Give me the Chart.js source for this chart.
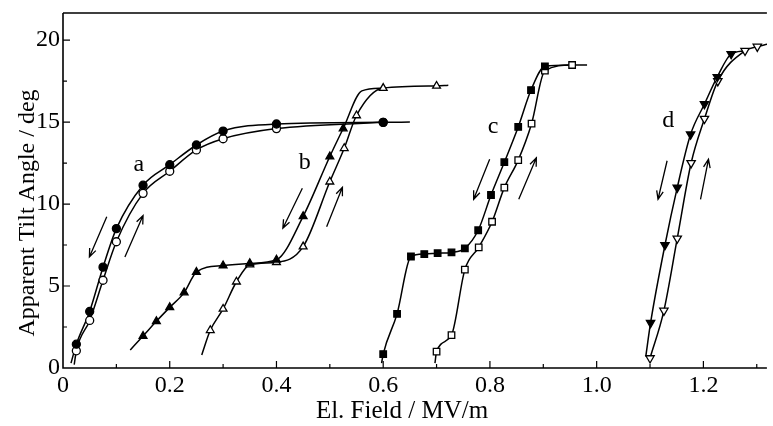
<!DOCTYPE html>
<html>
<head>
<meta charset="utf-8">
<script src="https://cdn.jsdelivr.net/npm/chart.js@4.4.0/dist/chart.umd.min.js"></script>
<style>
  html, body { margin: 0; padding: 0; background: #fff; }
  #wrap { width: 773px; height: 426px; }
</style>
</head>
<body>
<div id="wrap"><canvas id="chart"></canvas></div>
<script>
// curve a, circles (filled = field decreasing, open = increasing)
const aDownX = [0.025, 0.05, 0.075, 0.1, 0.15, 0.2, 0.25, 0.3, 0.4, 0.6];
const aDownY = [1.45, 3.45, 6.15, 8.5, 11.15, 12.4, 13.6, 14.45, 14.88, 14.98];
const aDownStart = [[0.015, 0.3]];
const aDownEnd = [[0.65, 15.0]];
const aUpX = [0.025, 0.05, 0.075, 0.1, 0.15, 0.2, 0.25, 0.3, 0.4, 0.6];
const aUpY = [1.05, 2.9, 5.35, 7.7, 10.65, 12.0, 13.3, 13.98, 14.6, 14.98];
const aUpStart = [[0.021, 0.2]];
const aUpEnd = [];

// curve b, triangles
const bDownX = [0.15, 0.175, 0.2, 0.227, 0.25, 0.3, 0.35, 0.4, 0.45, 0.5, 0.525];
const bDownY = [1.95, 2.85, 3.7, 4.6, 5.85, 6.25, 6.38, 6.6, 9.25, 12.9, 14.6];
const bDownStart = [[0.126, 1.1]];
const bDownEnd = [[0.56, 16.9], [0.6, 17.07]];
const bUpX = [0.276, 0.3, 0.325, 0.35, 0.4, 0.45, 0.5, 0.527, 0.55, 0.6, 0.7];
const bUpY = [2.3, 3.6, 5.26, 6.3, 6.45, 7.4, 11.36, 13.4, 15.4, 17.07, 17.2];
const bUpStart = [[0.26, 0.8]];
const bUpEnd = [[0.722, 17.25]];

// curve c, squares
const cDownX = [0.6, 0.626, 0.652, 0.677, 0.702, 0.728, 0.753, 0.778, 0.802, 0.827, 0.853, 0.877, 0.903];
const cDownY = [0.85, 3.3, 6.8, 6.95, 7.0, 7.05, 7.3, 8.4, 10.55, 12.55, 14.7, 16.95, 18.4];
const cDownStart = [[0.597, 0.3]];
const cDownEnd = [[0.954, 18.48]];
const cUpX = [0.7, 0.728, 0.753, 0.779, 0.804, 0.827, 0.853, 0.878, 0.903, 0.954];
const cUpY = [1.0, 2.0, 6.0, 7.36, 8.92, 11.0, 12.68, 14.9, 18.13, 18.48];
const cUpStart = [[0.697, 0.3]];
const cUpEnd = [[0.982, 18.48]];

// curve d, inverted triangles
const dDownX = [1.101, 1.128, 1.151, 1.176, 1.202, 1.226, 1.252];
const dDownY = [2.75, 7.5, 11.0, 14.25, 16.1, 17.75, 19.15];
const dDownStart = [[1.092, 0.7]];
const dDownEnd = [[1.278, 19.35]];
const dUpX = [1.1, 1.126, 1.151, 1.177, 1.202, 1.227, 1.278, 1.301];
const dUpY = [0.6, 3.5, 7.9, 12.5, 15.2, 17.5, 19.35, 19.6];
const dUpStart = [];
const dUpEnd = [[1.32, 19.75]];

// curve letters
const labelText = ['a', 'b', 'c', 'd'];
const labelX = [0.142, 0.453, 0.806, 1.134];
const labelY = [12.4, 12.5, 14.7, 15.1];

// sweep arrows (from -> to, head at "to")
const arrowFromX = [0.082, 0.116, 0.4485, 0.494, 0.7995, 0.854, 1.132, 1.1946];
const arrowFromY = [9.22, 6.77, 10.96, 8.62, 12.73, 10.29, 12.64, 10.29];
const arrowToX = [0.0495, 0.15, 0.412, 0.5236, 0.7695, 0.887, 1.115, 1.2095];
const arrowToY = [6.77, 9.3, 8.52, 11.02, 10.29, 12.82, 10.29, 12.73];

const xTicks = [0, 0.2, 0.4, 0.6, 0.8, 1.0, 1.2];
const yTicks = [0, 5, 10, 15, 20];
const xTitle = 'El. Field / MV/m';
const yTitle = 'Apparent Tilt Angle / deg';

const FONT = "'Liberation Serif', 'DejaVu Serif', serif";

function pts(xs, ys) {
        return xs.map((x, i) => ({x: x, y: ys[i]}));
}

function curve(xs, ys, start, end) {
        const toObj = p => ({x: p[0], y: p[1]});
        return {
                data: start.map(toObj).concat(pts(xs, ys), end.map(toObj)),
                borderColor: '#000',
                borderWidth: 1.5,
                pointRadius: 0,
                cubicInterpolationMode: 'monotone',
                fill: false,
                order: 10
        };
}

function markers(xs, ys, style, filled, radius, rotation=0) {
        return {
                data: pts(xs, ys),
                showLine: false,
                pointStyle: style,
                pointRadius: radius,
                pointRotation: rotation,
                pointBackgroundColor: filled ? '#000' : '#fff',
                pointBorderColor: '#000',
                pointBorderWidth: 1.3,
                order: filled ? 1 : 5
        };
}

const datasets = [
        curve(aDownX, aDownY, aDownStart, aDownEnd),
        curve(aUpX, aUpY, aUpStart, aUpEnd),
        curve(bDownX, bDownY, bDownStart, bDownEnd),
        curve(bUpX, bUpY, bUpStart, bUpEnd),
        curve(cDownX, cDownY, cDownStart, cDownEnd),
        curve(cUpX, cUpY, cUpStart, cUpEnd),
        curve(dDownX, dDownY, dDownStart, dDownEnd),
        curve(dUpX, dUpY, dUpStart, dUpEnd),
        markers(aDownX, aDownY, 'circle', true, 4),
        markers(aUpX, aUpY, 'circle', false, 4),
        markers(bDownX, bDownY, 'triangle', true, 4.5),
        markers(bUpX, bUpY, 'triangle', false, 4.5),
        markers(cDownX, cDownY, 'rect', true, 4.6),
        markers(cUpX, cUpY, 'rect', false, 4.6),
        markers(dDownX, dDownY, 'triangle', true, 4.8, 180),
        markers(dUpX, dUpY, 'triangle', false, 4.8, 180)
];

// frame, inward ticks, axis titles, letters and arrows
const decor = {
        id: 'decor',
        afterDatasetsDraw(chart) {
                const {ctx, chartArea: ca, scales: {x, y}} = chart;
                ctx.save();
                ctx.strokeStyle = '#000';
                ctx.lineWidth = 1.6;
                ctx.beginPath();
                ctx.moveTo(ca.left, ca.top);
                ctx.lineTo(ca.left, ca.bottom);
                ctx.lineTo(ca.right, ca.bottom);
                ctx.moveTo(ca.left, ca.top);
                ctx.lineTo(ca.right, ca.top);
                ctx.stroke();

                ctx.lineWidth = 1.2;
                ctx.beginPath();
                for (let i = 1; i <= 13; i++) {
                        const px = x.getPixelForValue(i / 10);
                        const len = i % 2 === 0 ? 7 : 4;
                        ctx.moveTo(px, ca.bottom);
                        ctx.lineTo(px, ca.bottom - len);
                }
                for (let i = 1; i <= 8; i++) {
                        const py = y.getPixelForValue(i * 2.5);
                        const len = i % 2 === 0 ? 7 : 4;
                        ctx.moveTo(ca.left, py);
                        ctx.lineTo(ca.left + len, py);
                }
                ctx.stroke();

                ctx.fillStyle = '#000';
                ctx.textAlign = 'center';
                ctx.textBaseline = 'middle';

                ctx.font = '25px ' + FONT;
                ctx.fillText(xTitle, 402, 411);
                ctx.save();
                ctx.translate(28, 213);
                ctx.rotate(-Math.PI / 2);
                ctx.font = '24px ' + FONT;
                ctx.fillText(yTitle, 0, 0);
                ctx.restore();

                ctx.font = '24px ' + FONT;
                labelText.forEach((t, i) => {
                        ctx.fillText(t, x.getPixelForValue(labelX[i]), y.getPixelForValue(labelY[i]));
                });

                ctx.lineWidth = 1.3;
                for (let i = 0; i < arrowFromX.length; i++) {
                        const x0 = x.getPixelForValue(arrowFromX[i]);
                        const y0 = y.getPixelForValue(arrowFromY[i]);
                        const x1 = x.getPixelForValue(arrowToX[i]);
                        const y1 = y.getPixelForValue(arrowToY[i]);
                        const ang = Math.atan2(y1 - y0, x1 - x0);
                        const h = 9, spread = 0.38;
                        ctx.beginPath();
                        ctx.moveTo(x0, y0);
                        ctx.lineTo(x1, y1);
                        ctx.moveTo(x1 - h * Math.cos(ang - spread), y1 - h * Math.sin(ang - spread));
                        ctx.lineTo(x1, y1);
                        ctx.lineTo(x1 - h * Math.cos(ang + spread), y1 - h * Math.sin(ang + spread));
                        ctx.stroke();
                }
                ctx.restore();
        }
};

const config = {
        type: 'line',
        data: {datasets: datasets},
        options: {
                responsive: true,
                maintainAspectRatio: false,
                animation: false,
                layout: {padding: {top: 13, right: 0, left: 0, bottom: 0}},
                plugins: {legend: {display: false}, tooltip: {enabled: false}},
                scales: {
                        x: {
                                type: 'linear',
                                min: 0,
                                max: 1.319,
                                afterBuildTicks: s => { s.ticks = xTicks.map(v => ({value: v})); },
                                afterFit: s => { s.height = 58; s.paddingLeft = 0; s.paddingRight = 0; },
                                grid: {display: false, drawTicks: false},
                                border: {display: false},
                                ticks: {
                                        color: '#000',
                                        padding: 3,
                                        maxRotation: 0,
                                        font: {family: FONT, size: 24},
                                        callback: v => (v === 0 ? '0' : v.toFixed(1))
                                }
                        },
                        y: {
                                min: 0,
                                max: 21.65,
                                afterBuildTicks: s => { s.ticks = yTicks.map(v => ({value: v})); },
                                afterFit: s => { s.width = 63; s.paddingTop = 0; s.paddingBottom = 0; },
                                grid: {display: false, drawTicks: false},
                                border: {display: false},
                                ticks: {
                                        color: '#000',
                                        padding: 3,
                                        font: {family: FONT, size: 24}
                                }
                        }
                }
        },
        plugins: [decor]
};

new Chart(document.getElementById('chart').getContext('2d'), config);
</script>
</body>
</html>
